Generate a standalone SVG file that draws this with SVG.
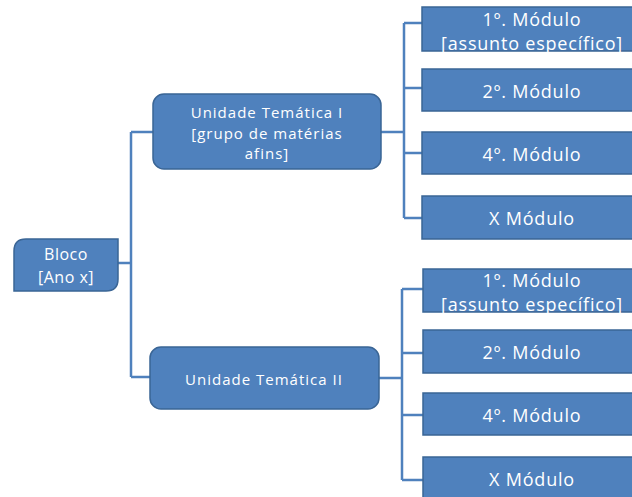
<svg xmlns="http://www.w3.org/2000/svg" width="632" height="497" viewBox="0 0 632 497">
<style>
.box{fill:#4F81BD;stroke:#3A6595;stroke-width:1.5}
.t{font-family:"Open Sans","Liberation Sans",sans-serif;font-size:16px;letter-spacing:0.5px;fill:#FFFFFF;text-anchor:middle;dominant-baseline:central}
.u{font-size:15px;letter-spacing:1px}
.m{font-size:18px;letter-spacing:0.8px}
.c{fill:none;stroke:#4F81BD;stroke-width:2.5}
</style>
<rect width="632" height="497" fill="#FFFFFF"/>
<g id="connectors">
<path class="c" d="M118 263 H131 M131 132 V377 M131 132 H153 M131 377 H150"/>
<path class="c" d="M381 132 H404 M404 23 V218 M404 23 H422 M404 88 H422 M404 153 H422 M404 218 H422"/>
<path class="c" d="M379 378 H402 M402 289 V480 M402 289 H423 M402 353 H423 M402 415 H423 M402 480 H423"/>
</g>
<g id="bloco">
<path class="box" d="M26 239 H118 V279 Q118 291 106 291 H14 V251 Q14 239 26 239 Z"/>
<text class="t" x="66" y="254">Bloco</text>
<text class="t" x="66" y="277">[Ano x]</text>
</g>
<g id="unidade1">
<rect class="box" x="153" y="94" width="228" height="75" rx="11"/>
<text class="t u" x="267" y="112">Unidade Temática I</text>
<text class="t u" x="267" y="132.5">[grupo de matérias</text>
<text class="t u" x="267" y="153">afins]</text>
</g>
<g id="unidade2">
<rect class="box" x="150" y="347" width="229" height="62" rx="11"/>
<text class="t u" x="264" y="379">Unidade Temática II</text>
</g>
<g id="m1a">
<rect class="box" x="422" y="7" width="222" height="44"/>
<text class="t m" x="532" y="19">1º. Módulo</text>
<text class="t m" x="532" y="43">[assunto específico]</text>
</g>
<g id="m2a">
<rect class="box" x="422" y="69" width="222" height="42"/>
<text class="t m" x="532" y="91">2º. Módulo</text>
</g>
<g id="m4a">
<rect class="box" x="422" y="132" width="222" height="42"/>
<text class="t m" x="532" y="154">4º. Módulo</text>
</g>
<g id="mxa">
<rect class="box" x="422" y="196" width="222" height="43"/>
<text class="t m" x="532" y="218">X Módulo</text>
</g>
<g id="m1b">
<rect class="box" x="423" y="269" width="222" height="43"/>
<text class="t m" x="532" y="280">1º. Módulo</text>
<text class="t m" x="532" y="304">[assunto específico]</text>
</g>
<g id="m2b">
<rect class="box" x="423" y="330" width="222" height="43"/>
<text class="t m" x="532" y="352">2º. Módulo</text>
</g>
<g id="m4b">
<rect class="box" x="423" y="393" width="222" height="42"/>
<text class="t m" x="532" y="415">4º. Módulo</text>
</g>
<g id="mxb">
<rect class="box" x="423" y="457" width="222" height="50"/>
<text class="t m" x="532" y="479">X Módulo</text>
</g>
</svg>
